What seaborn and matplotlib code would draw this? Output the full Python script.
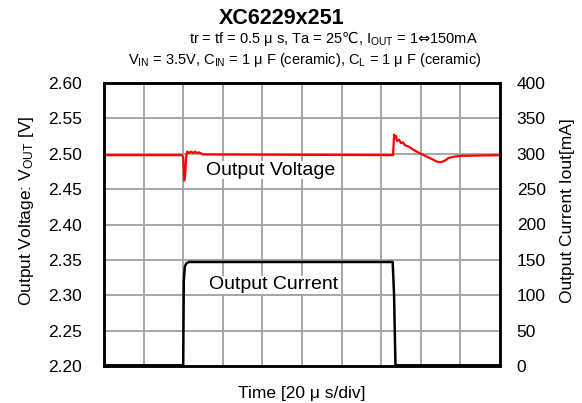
import matplotlib
matplotlib.use("Agg")
import matplotlib.pyplot as plt
import seaborn as sns
import pandas as pd

# data (time in us)
t_vout = [0, 39.5, 40.0, 40.5, 41.0, 41.5, 42.0, 43, 44, 45, 46, 47, 48, 50,
          146, 146.5, 147, 147.5, 148, 149, 150, 151, 152, 154, 156, 158, 160,
          163, 166, 168, 170, 172, 174, 177, 180, 200]
vout = [2.498, 2.498, 2.495, 2.462, 2.470, 2.495, 2.503, 2.501, 2.503, 2.501, 2.503, 2.501, 2.502, 2.499,
        2.498, 2.527, 2.522, 2.525, 2.518, 2.520, 2.515, 2.516, 2.512, 2.510, 2.506, 2.503, 2.500,
        2.496, 2.492, 2.489, 2.488, 2.490, 2.494, 2.496, 2.497, 2.498]

t_iout = [0, 40.0, 40.3, 40.8, 41.5, 43, 46, 145.8, 146.5, 147.2, 200]
iout = [1, 1, 120, 140, 145, 147, 147, 147, 100, 1, 1]

yticks_v = [2.20, 2.25, 2.30, 2.35, 2.40, 2.45, 2.50, 2.55, 2.60]
yticks_i = [0, 50, 100, 150, 200, 250, 300, 350, 400]
xticks_t = list(range(0, 201, 20))

df_v = pd.DataFrame({"t": t_vout, "v": vout})
df_i = pd.DataFrame({"t": t_iout, "i": iout})

sns.set_style("white")
plt.rcParams["font.family"] = ["Liberation Sans", "DejaVu Sans", "Noto Sans CJK JP"]
plt.rcParams["mathtext.fontset"] = "custom"
plt.rcParams["mathtext.rm"] = "Liberation Sans"
plt.rcParams["mathtext.sf"] = "DejaVu Sans"
plt.rcParams["mathtext.default"] = "regular"
plt.rcParams["text.color"] = "black"
plt.rcParams["axes.labelcolor"] = "black"
plt.rcParams["xtick.color"] = "black"
plt.rcParams["ytick.color"] = "black"

fig = plt.figure(figsize=(5.82, 4.03), dpi=100)
ax = fig.add_axes([104 / 582, 1 - 366 / 403, 396 / 582, 283 / 403])
ax2 = ax.twinx()

sns.lineplot(data=df_v, x="t", y="v", ax=ax, color="#ff0000", lw=1.6,
             estimator=None, sort=False)
sns.lineplot(data=df_i, x="t", y="i", ax=ax2, color="black", lw=1.8,
             estimator=None, sort=False)

ax.set_xlim(0, 200)
ax.set_ylim(2.2, 2.6)
ax2.set_ylim(0, 400)
ax.set_xticks(xticks_t)
ax.set_xticklabels([])
ax.set_yticks(yticks_v)
ax.set_yticklabels([f"{v:.2f}" for v in yticks_v])
ax2.set_yticks(yticks_i)
ax.grid(True, color="#a6a6a6", lw=1.4)
ax.set_axisbelow(True)
ax2.grid(False)
ax.tick_params(length=0, labelsize=12.5, pad=16)
ax2.tick_params(length=0, labelsize=12.5, pad=12)
for a in (ax, ax2):
    for s in a.spines.values():
        s.set_color("black")
        s.set_linewidth(1.8)

ax.set_xlabel("Time [20 μ s/div]", fontsize=12.5)
ax.xaxis.set_label_coords(0.5, -0.072)
ax.set_ylabel("Output Voltage: V$_{OUT}$ [V]", fontsize=12.5)
ax.yaxis.set_label_coords(-0.172, 0.55)
ax2.set_ylabel("Output Current Iout[mA]", fontsize=12.5, rotation=90)
ax2.yaxis.set_label_coords(1.151, 0.55)

box = dict(facecolor="white", edgecolor="none", pad=0.5)
ax2.text(51.5, 277, "Output Voltage", fontsize=14, va="center", bbox=box, zorder=5)
ax2.text(53, 114.5, "Output Current", fontsize=14, va="center", bbox=box, zorder=5)

fig.text(282 / 582, 1 - 19 / 403, "XC6229x251", fontsize=15.5, fontweight="bold",
         ha="center", va="center")
fig.text(333 / 582, 1 - 38 / 403,
         "tr = tf = 0.5 μ s, Ta = 25$\\mathsf{℃}$, I$_{OUT}$ = 1$\\mathsf{⇔}$150mA",
         fontsize=10.5, ha="center", va="center")
fig.text(305 / 582, 1 - 60 / 403,
         "V$_{IN}$ = 3.5V, C$_{IN}$ = 1 μ F (ceramic), C$_{L}$ = 1 μ F (ceramic)",
         fontsize=10.5, ha="center", va="center")

fig.savefig("out.png", dpi=100)
